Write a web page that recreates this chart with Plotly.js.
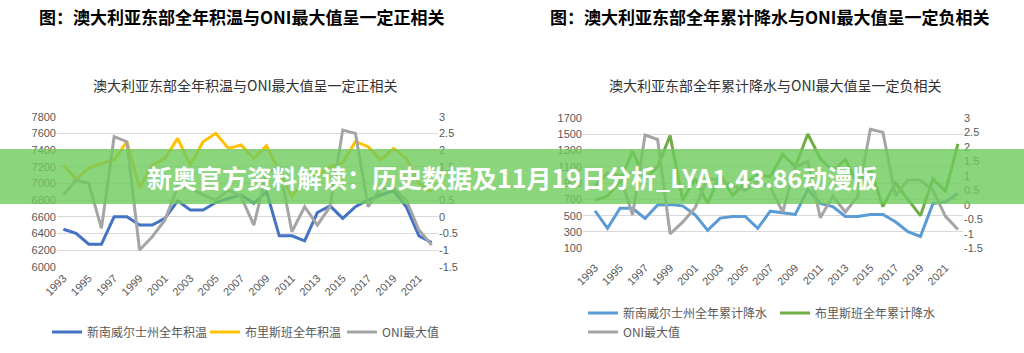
<!DOCTYPE html>
<html><head><meta charset="utf-8">
<script src="https://cdn.plot.ly/plotly-3.0.1.min.js"></script>
<style>html,body{margin:0;padding:0;background:#fff;overflow:hidden;} #chart{width:1024px;height:353px;}</style>
</head><body><div id="chart"></div>
<script>
// ---- data ----
const years = [1993,1994,1995,1996,1997,1998,1999,2000,2001,2002,2003,2004,2005,2006,2007,2008,2009,2010,2011,2012,2013,2014,2015,2016,2017,2018,2019,2020,2021,2022];
const yearTicks = [1993,1995,1997,1999,2001,2003,2005,2007,2009,2011,2013,2015,2017,2019,2021];
const yearTickText = ['1993','1995','1997','1999','2001','2003','2005','2007','2009','2011','2013','2015','2017','2019','2021'];
const oniTicks = [-1.5,-1,-0.5,0,0.5,1,1.5,2,2.5,3];
const oniTickText = ['-1.5','-1','-0.5','0','0.5','1','1.5','2','2.5','3'];

// left chart: annual accumulated temperature
const nswTemp = [6450,6400,6270,6270,6600,6600,6500,6500,6580,6790,6680,6680,6770,6820,6860,6760,6900,6370,6370,6310,6650,6730,6580,6720,6800,6860,6910,6720,6370,6290];
const brisTemp = [7220,7050,7180,7240,7280,7500,6950,7220,7300,7540,7220,7500,7600,7420,7460,7300,7450,7150,6840,7050,7100,7200,7250,7500,7440,7280,7420,7300,7000,6900];
// ONI annual max
const oniMax = [0.65,1.1,1.0,-0.35,2.4,2.25,-1.0,-0.6,-0.1,0.9,0.85,0.65,0.5,0.8,0.6,-0.25,1.3,1.5,-0.45,0.3,-0.25,0.3,2.6,2.5,0.3,0.85,0.85,0.5,-0.4,-0.85];
// right chart: annual accumulated rainfall
const nswRain = [560,345,590,590,465,630,635,620,510,320,470,490,490,345,555,535,515,820,650,610,490,490,515,515,425,305,245,650,670,770];
const brisRain = [690,740,920,1290,950,1100,1480,690,950,650,1000,750,900,1000,980,1250,1100,1500,1200,1050,1190,880,1080,610,900,700,500,950,800,1380];

const names = {
  nswTemp:'新南威尔士州全年积温', brisTemp:'布里斯班全年积温', oni:'ONI最大值',
  nswRain:'新南威尔士州全年累计降水', brisRain:'布里斯班全年累计降水'
};

// ---- layout helpers ----
const W = 1024, H = 353;
const px = x => x / W, py = y => (H - y) / H;
const CJK = '"Noto Sans CJK SC", "Noto Sans", sans-serif';
const tickFont = {family: '"Liberation Sans", Arial, sans-serif', size: 11, color: '#595959'};
const legFont = {family: CJK, size: 12, color: '#595959'};
const grid = '#D9D9D9';

const traces = [
  {x: years, y: nswTemp, name: names.nswTemp, type: 'scatter', mode: 'lines', line: {color: '#4472C4', width: 3}, xaxis: 'x', yaxis: 'y', legend: 'legend'},
  {x: years, y: brisTemp, name: names.brisTemp, type: 'scatter', mode: 'lines', line: {color: '#FFC000', width: 3}, xaxis: 'x', yaxis: 'y', legend: 'legend2'},
  {x: years, y: oniMax, name: names.oni, type: 'scatter', mode: 'lines', line: {color: '#A5A5A5', width: 3}, xaxis: 'x', yaxis: 'y2', legend: 'legend3'},
  {x: years, y: nswRain, name: names.nswRain, type: 'scatter', mode: 'lines', line: {color: '#5B9BD5', width: 3}, xaxis: 'x2', yaxis: 'y3', legend: 'legend4'},
  {x: years, y: brisRain, name: names.brisRain, type: 'scatter', mode: 'lines', line: {color: '#70AD47', width: 3}, xaxis: 'x2', yaxis: 'y3', legend: 'legend5'},
  {x: years, y: oniMax, name: names.oni, type: 'scatter', mode: 'lines', line: {color: '#A5A5A5', width: 3}, xaxis: 'x2', yaxis: 'y4', legend: 'legend6'}
];

const xCommon = {tickvals: yearTicks, ticktext: yearTickText, tickangle: -45, showgrid: false, zeroline: false, showline: false, ticks: '', tickfont: tickFont, fixedrange: true};
const yCommon = {zeroline: false, showline: false, ticks: '', tickfont: tickFont, fixedrange: true};

const legCommon = {orientation: 'h', xanchor: 'left', yanchor: 'middle', font: legFont, bgcolor: 'rgba(0,0,0,0)', itemwidth: 30, tracegroupgap: 0};
const leg = (x, y) => Object.assign({}, legCommon, {x: px(x), y: py(y)});

const layout = {
  width: W, height: H,
  margin: {l: 0, r: 0, t: 0, b: 0},
  paper_bgcolor: '#fff', plot_bgcolor: 'rgba(0,0,0,0)',
  showlegend: true,
  xaxis: Object.assign({}, xCommon, {domain: [px(57), px(438)], range: [1992.5, 2022.5], anchor: 'y', ticklabelstandoff: 2}),
  yaxis: Object.assign({}, yCommon, {domain: [py(266.7), py(116.7)], range: [6000, 7800], tick0: 6000, dtick: 200, showgrid: true, gridcolor: grid, gridwidth: 1, anchor: 'x'}),
  yaxis2: Object.assign({}, yCommon, {overlaying: 'y', side: 'right', anchor: 'x', range: [-1.5, 3], tickvals: oniTicks, ticktext: oniTickText, showgrid: false}),
  xaxis2: Object.assign({}, xCommon, {domain: [px(583), px(963)], range: [1992.04, 2022.4], anchor: 'y3', ticklabelstandoff: 10}),
  yaxis3: Object.assign({}, yCommon, {domain: [py(248.3), py(117.7)], range: [100, 1700], tick0: 100, dtick: 200, showgrid: true, gridcolor: grid, gridwidth: 1, anchor: 'x2'}),
  yaxis4: Object.assign({}, yCommon, {overlaying: 'y3', side: 'right', anchor: 'x2', range: [-1.5, 3], tickvals: oniTicks, ticktext: oniTickText, showgrid: false}),
  legend: leg(47, 332),
  legend2: leg(205, 332),
  legend3: leg(342, 332),
  legend4: leg(583, 313),
  legend5: leg(775, 313),
  legend6: leg(583, 332),
  shapes: [
    {type: 'rect', xref: 'paper', yref: 'paper', x0: 0, x1: 1, y0: py(204), y1: py(149), fillcolor: 'rgba(110,202,92,0.8)', line: {width: 0}, layer: 'above'}
  ],
  annotations: [
    {xref: 'paper', yref: 'paper', x: px(37), y: py(16), xanchor: 'left', yanchor: 'middle', showarrow: false,
     text: '<b>图：澳大利亚东部全年积温与ONI最大值呈一定正相关</b>', font: {family: CJK, size: 17, color: '#000'}},
    {xref: 'paper', yref: 'paper', x: px(548), y: py(16), xanchor: 'left', yanchor: 'middle', showarrow: false,
     text: '<b>图：澳大利亚东部全年累计降水与ONI最大值呈一定负相关</b>', font: {family: CJK, size: 17, color: '#000'}},
    {xref: 'paper', yref: 'paper', x: px(245), y: py(85), xanchor: 'center', yanchor: 'middle', showarrow: false,
     text: '澳大利亚东部全年积温与ONI最大值呈一定正相关', font: {family: CJK, size: 14, color: '#333'}},
    {xref: 'paper', yref: 'paper', x: px(775), y: py(85), xanchor: 'center', yanchor: 'middle', showarrow: false,
     text: '澳大利亚东部全年累计降水与ONI最大值呈一定负相关', font: {family: CJK, size: 14, color: '#333'}},
    {xref: 'paper', yref: 'paper', x: 0.5, y: py(177), xanchor: 'center', yanchor: 'middle', showarrow: false,
     text: '<b>新奥官方资料解读：历史数据及11月19日分析_LYA1.43.86动漫版</b>', font: {family: CJK, size: 25, color: '#fff'}}
  ]
};

Plotly.newPlot('chart', traces, layout, {displayModeBar: false, staticPlot: true});
</script>
</body></html>
